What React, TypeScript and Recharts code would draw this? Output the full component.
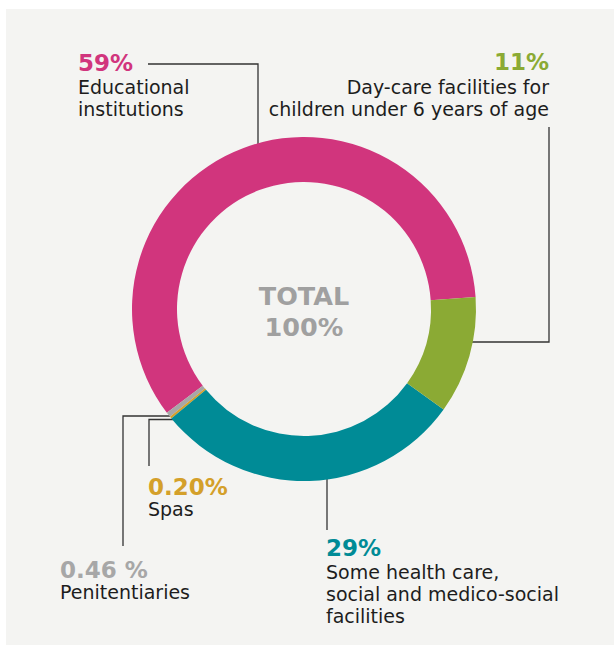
import React from 'react';
import { PieChart, Pie, Cell, Customized } from 'recharts';

const categories = [
  'Educational institutions',
  'Penitentiaries',
  'Spas',
  'Some health care, social and medico-social facilities',
  'Day-care facilities for children under 6 years of age',
];
const shares = [59, 0.46, 0.2, 29, 11];
const valueLabels = ['59%', '0.46 %', '0.20%', '29%', '11%'];
const colors = ['#D1357D', '#A7A7A7', '#D4A02A', '#008B96', '#8BAA34'];

const data = categories.map((name, i) => ({ name, value: shares[i] }));

const W = 614;
const H = 655;
const CX = 304;
const CY = 309;

const FONT = '"DejaVu Sans", sans-serif';
const TEXT = '#1d1d1d';

type Ann = {
  idx: number;
  x: number;
  anchor: 'start' | 'end';
  numY: number;
  lines: string[];
  lineYs: number[];
  path: string;
};

const annotations: Ann[] = [
  { idx: 0, x: 78, anchor: 'start', numY: 71, lines: ['Educational', 'institutions'], lineYs: [94, 115.5], path: 'M148,64 H258 V149' },
  { idx: 4, x: 549, anchor: 'end', numY: 70, lines: ['Day-care facilities for', 'children under 6 years of age'], lineYs: [93.5, 115.8], path: 'M549,127 V342 H465' },
  { idx: 3, x: 326, anchor: 'start', numY: 556, lines: ['Some health care,', 'social and medico-social', 'facilities'], lineYs: [578.5, 600.8, 622.8], path: 'M327,464 V530' },
  { idx: 2, x: 148, anchor: 'start', numY: 495, lines: ['Spas'], lineYs: [516], path: 'M173,419.5 H149 V466' },
  { idx: 1, x: 60, anchor: 'start', numY: 578, lines: ['Penitentiaries'], lineYs: [598.5], path: 'M170,416 H123 V546' },
];

const Background = () => <rect x={6} y={9} width={W - 6} height={636} fill="#F4F4F2" />;

const Annotations = () => (
  <g>
    {annotations.map((a) => (
      <g key={a.idx}>
        <path d={a.path} fill="none" stroke="#333" strokeWidth={1.3} />
        <text x={a.x} y={a.numY} textAnchor={a.anchor} fontFamily={FONT} fontWeight="bold" fontSize={23} fill={colors[a.idx]}>
          {valueLabels[a.idx]}
        </text>
        {a.lines.map((l, j) => (
          <text key={j} x={a.x} y={a.lineYs[j]} textAnchor={a.anchor} fontFamily={FONT} fontSize={19} fill={TEXT}>
            {l}
          </text>
        ))}
      </g>
    ))}
    <text x={CX} y={305} textAnchor="middle" fontFamily={FONT} fontWeight="bold" fontSize={25.5} fill="#A0A0A0">TOTAL</text>
    <text x={CX} y={336} textAnchor="middle" fontFamily={FONT} fontWeight="bold" fontSize={25.5} fill="#A0A0A0">100%</text>
  </g>
);

export default function App() {
  return (
    <div style={{ position: 'absolute', left: 0, top: 0, width: W, height: H, background: '#fff' }}>
      <PieChart width={W} height={H} margin={{ top: 0, right: 0, bottom: 0, left: 0 }}>
        <Customized component={Background} />
        <Pie
          data={data}
          dataKey="value"
          nameKey="name"
          cx={CX}
          cy={CY}
          innerRadius={127}
          outerRadius={172}
          startAngle={4}
          endAngle={364}
          stroke="none"
          isAnimationActive={false}
        >
          {data.map((d, i) => (
            <Cell key={d.name} fill={colors[i]} />
          ))}
        </Pie>
        <Customized component={Annotations} />
      </PieChart>
    </div>
  );
}
